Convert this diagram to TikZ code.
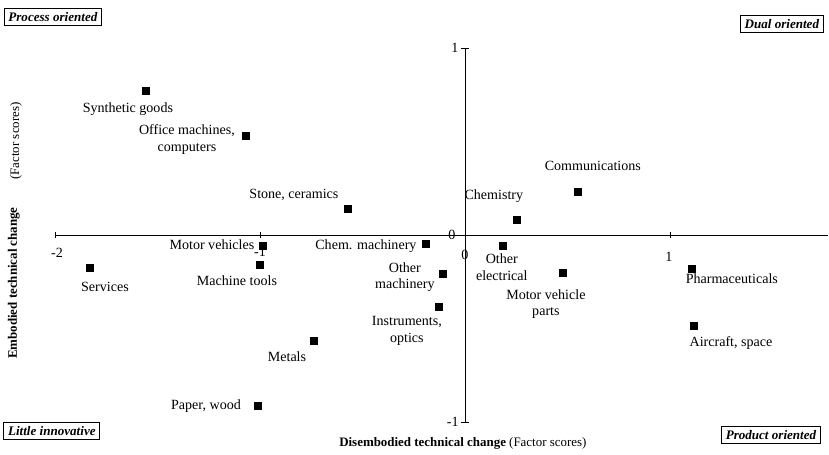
\documentclass[tikz,border=0pt]{standalone}
\usepackage{fontspec}
\setmainfont{Liberation Serif}
\usepackage{tikz}

\tikzset{
  pt/.style={fill=black, draw=none, minimum size=5.6pt, inner sep=0pt},
  lbl/.style={font=\fontsize{10}{12}\selectfont, align=center, inner sep=0pt},
  titlelbl/.style={font=\fontsize{9.2}{11}\selectfont, inner sep=0pt},
  quadbox/.style={draw, line width=0.6pt, font=\fontsize{9.3}{11}\selectfont\bfseries\itshape, inner xsep=3pt, inner ysep=2.6pt},
  ticklbl/.style={font=\fontsize{10}{12}\selectfont, inner sep=0pt}
}

\begin{document}
\begin{tikzpicture}[x=5.125cm, y=4.675cm]

\useasboundingbox (-2.268,-1.176) rectangle (1.776,1.257);

% Achsen
\coordinate (xl) at (-2,0);
\coordinate (xr) at (1.771,0);
\coordinate (yb) at (0,-1);
\coordinate (yt) at (0,1);
\draw[line width=0.5pt] (xl) -- (xr);
\draw[line width=0.5pt] (yb) -- (yt);

% Teilstriche
\foreach \t in {-2,-1,0,1}
  \draw[line width=0.5pt] (\t,-0.016) -- (\t,0.016);
\foreach \t in {-1,1}
  \draw[line width=0.5pt] (-0.02,\t) -- (0.02,\t);

% Achsenbeschriftung
\node[ticklbl] (xm2) at (-1.990,-0.096) {-2};
\node[ticklbl] (xm1) at (-1.0,-0.091) {-1};
\node[ticklbl] (x0) at (0,-0.107) {0};
\node[ticklbl] (x1) at (0.995,-0.118) {1};
\node[ticklbl] (y1) at (-0.049,1.0) {1};
\node[ticklbl] (ym1) at (-0.059,-1.0) {-1};
\node[ticklbl] (y0) at (-0.063,0) {0};

\node[titlelbl] (xtitle) at (-0.01,-1.112) {\textbf{Disembodied technical change} (Factor scores)};
\node[titlelbl, rotate=90] (ytitle) at (-2.200,-0.257) {\textbf{Embodied technical change}};
\node[titlelbl, rotate=90] (yunit) at (-2.190,0.503) {(Factor scores)};

% Quadranten
\node[quadbox] (proc) at (-2.010,1.166) {Process oriented};
\node[quadbox] (dual) at (1.546,1.128) {Dual oriented};
\node[quadbox] (litt) at (-2.015,-1.048) {Little innovative};
\node[quadbox] (prod) at (1.493,-1.070) {Product oriented};

% Datenpunkte
\node[pt] (syn) at (-1.556,0.770) {};
\node[pt] (off) at (-1.068,0.529) {};
\node[pt] (sto) at (-0.571,0.139) {};
\node[pt] (mvh) at (-0.985,-0.059) {};
\node[pt] (mto) at (-1.0,-0.160) {};
\node[pt] (ser) at (-1.829,-0.176) {};
\node[pt] (cma) at (-0.190,-0.048) {};
\node[pt] (oma) at (-0.107,-0.209) {};
\node[pt] (ins) at (-0.127,-0.385) {};
\node[pt] (met) at (-0.737,-0.567) {};
\node[pt] (pap) at (-1.010,-0.914) {};
\node[pt] (oel) at (0.185,-0.059) {};
\node[pt] (che) at (0.254,0.080) {};
\node[pt] (com) at (0.551,0.230) {};
\node[pt] (mvp) at (0.478,-0.203) {};
\node[pt] (pha) at (1.107,-0.182) {};
\node[pt] (air) at (1.117,-0.487) {};

% Beschriftungen
\node[lbl] (synl) at (-1.644,0.674) {Synthetic goods};
\node[lbl] (offl) at (-1.356,0.513) {Office machines,\\computers};
\node[lbl] (stol) at (-0.834,0.214) {Stone, ceramics};
\node[lbl] (mvhl) at (-1.234,-0.053) {Motor vehicles};
\node[lbl] (mtol) at (-1.112,-0.246) {Machine tools};
\node[lbl] (serl) at (-1.756,-0.278) {Services};
\node[lbl] (cmal) at (-0.483,-0.059) {Chem. machinery};
\node[lbl] (omal) at (-0.293,-0.225) {Other\\machinery};
\node[lbl] (insl) at (-0.283,-0.513) {Instruments,\\optics};
\node[lbl] (metl) at (-0.868,-0.652) {Metals};
\node[lbl] (papl) at (-1.263,-0.914) {Paper, wood};
\node[lbl] (oell) at (0.180,-0.171) {Other\\electrical};
\node[lbl] (chel) at (0.141,0.209) {Chemistry};
\node[lbl] (coml) at (0.624,0.369) {Communications};
\node[lbl] (mvpl) at (0.395,-0.369) {Motor vehicle\\parts};
\node[lbl] (phal) at (1.302,-0.235) {Pharmaceuticals};
\node[lbl] (airl) at (1.298,-0.578) {Aircraft, space};

\end{tikzpicture}
\end{document}
